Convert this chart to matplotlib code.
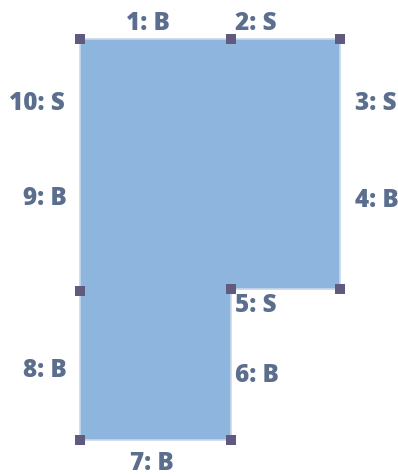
import matplotlib.pyplot as plt
from matplotlib.patches import Polygon

# outline vertices (image-like coords, y grows downward)
vx = [80, 231, 340, 340, 340, 231, 231, 80, 80, 80]
vy = [39, 39, 39, 152, 289, 289, 440, 440, 291, 152]
has_marker = [True, True, True, False, True, True, True, True, True, False]

# edge i runs from vertex i to vertex i+1
edge_labels = ["1: B", "2: S", "3: S", "4: B", "5: S",
               "6: B", "7: B", "8: B", "9: B", "10: S"]
# label offset from edge midpoint, pixels (x right, y down)
label_dx = [-8, -30, 36, 37, -30, 26, -4, -35, -35, -43]
label_dy = [-16, -16, 8, -20, 17, 11, 24, 5, -23, 8]

fill_color = "#8db5de"
edge_color = "#c9d7e8"
marker_color = "#5f5a7e"
text_color = "#5b6e8e"

fig = plt.figure(figsize=(3.98, 4.76), dpi=100)
ax = fig.add_axes([0, 0, 1, 1])
ax.set_xlim(0, 398)
ax.set_ylim(476, 0)
ax.axis("off")

poly = Polygon(list(zip(vx, vy)), closed=True, facecolor=fill_color,
               edgecolor=edge_color, linewidth=1.2, joinstyle="miter")
ax.add_patch(poly)

mx = [x for x, m in zip(vx, has_marker) if m]
my = [y for y, m in zip(vy, has_marker) if m]
ax.plot(mx, my, "s", color=marker_color, markersize=6.8,
        markeredgewidth=0, zorder=3)

n = len(vx)
for i, lab in enumerate(edge_labels):
    j = (i + 1) % n
    cx = (vx[i] + vx[j]) / 2
    cy = (vy[i] + vy[j]) / 2
    ax.annotate(lab, (cx, cy), xytext=(label_dx[i], -label_dy[i]),
                textcoords="offset pixels", ha="center", va="center",
                fontsize=17.5, fontweight="heavy", color=text_color,
                family="Open Sans")

fig.savefig("out.png", dpi=100)
